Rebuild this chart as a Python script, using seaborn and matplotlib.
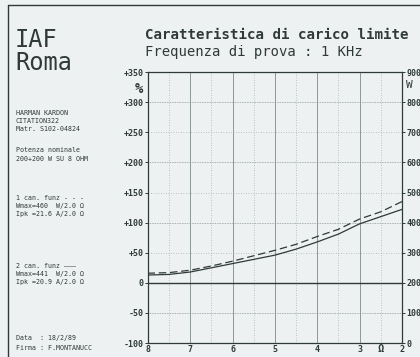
import pandas as pd
import matplotlib.pyplot as plt
import seaborn as sns
from matplotlib.lines import Line2D

# load impedance (ohm) vs. extra power (%) for the two channel modes
ohm = [8, 7.5, 7, 6.5, 6, 5.5, 5, 4.5, 4, 3.5, 3, 2.5, 2]
due_canali = [13, 14, 18, 25, 32, 39, 46, 56, 68, 81, 98, 110, 122]   # 2 can. funz (solid)
un_canale = [16, 17, 21, 28, 36, 45, 54, 64, 77, 89, 106, 118, 135]   # 1 can. funz (dashed)

pct_ticks = [350, 300, 250, 200, 150, 100, 50, 0, -50, -100]
pct_labels = ["+350", "+300", "+250", "+200", "+150", "+100", "+50", "0", "-50", "-100"]
watt_ticks = [0, 100, 200, 300, 400, 500, 600, 700, 800, 900]
ohm_ticks = [8, 7, 6, 5, 4, 3, 2]

ink = "#2f3a38"
paper = "#eef1f1"
mono = "DejaVu Sans Mono"

sns.set_style("white")
plt.rcParams["font.family"] = [mono, "DejaVu Sans"]

df = pd.DataFrame({
    "ohm": ohm * 2,
    "pct": due_canali + un_canale,
    "canali": ["2"] * len(ohm) + ["1"] * len(ohm),
})

fig = plt.figure(figsize=(4.2, 3.57), dpi=100, facecolor=paper)
ax = fig.add_axes([0.352, 0.039, 0.605, 0.759], facecolor=paper)

# grid: integers / hundreds darker, halves / fifties dotted
for x in ohm_ticks:
    ax.axvline(x, color="#8f9898", lw=0.7, zorder=0)
for x in [7.5, 6.5, 5.5, 4.5, 3.5, 2.5]:
    ax.axvline(x, color="#aab2b2", lw=0.6, ls=(0, (1, 2)), zorder=0)
for y in [300, 200, 100, -50]:
    ax.axhline(y, color="#8f9898", lw=0.6, ls=(0, (1, 1)), zorder=0)
for y in [250, 150, 50]:
    ax.axhline(y, color="#aab2b2", lw=0.6, ls=(0, (1, 2)), zorder=0)
ax.axhline(0, color=ink, lw=1.0, zorder=1)

sns.lineplot(data=df, x="ohm", y="pct", style="canali", style_order=["2", "1"],
             dashes={"2": "", "1": (6, 3)}, color=ink, lw=0.9, legend=False, ax=ax)

ax.set_xlim(8, 2)
ax.set_ylim(-100, 350)
ax.set_xticks(ohm_ticks)
ax.set_xticklabels([str(t) for t in ohm_ticks])
ax.set_yticks(pct_ticks)
ax.set_yticklabels(pct_labels)
ax.set_xlabel("")
ax.set_ylabel("")
ax.tick_params(axis="y", length=2, width=0.7, color=ink, labelcolor=ink, labelsize=6, pad=1)
ax.tick_params(axis="x", length=0, color=ink, labelcolor=ink, labelsize=6, pad=1.5)
for lab in ax.get_xticklabels() + ax.get_yticklabels():
    lab.set_fontweight("bold")
for s in ax.spines.values():
    s.set_color(ink)
    s.set_linewidth(0.9)
fig.text(381 / 420, 1 - 349 / 357, "\u03a9", ha="center", va="center",
         fontsize=7.5, color=ink, fontweight="bold")

ax2 = ax.twinx()
ax2.set_ylim(0, 900)
ax2.set_yticks(watt_ticks)
ax2.set_yticklabels([str(t) for t in watt_ticks])
ax2.tick_params(axis="y", length=2, width=0.7, color=ink, labelcolor=ink, labelsize=6, pad=1)
for lab in ax2.get_yticklabels():
    lab.set_fontweight("bold")
for s in ax2.spines.values():
    s.set_visible(False)

# axis units
fig.text(139 / 420, 1 - 89 / 357, "%", ha="center", va="center", fontsize=10, color=ink, fontweight="bold")
fig.text(409 / 420, 1 - 85 / 357, "W", ha="center", va="center", fontsize=8, color=ink)

# paper frame
fig.add_artist(Line2D([8 / 420, 1], [1 - 5 / 357, 1 - 5 / 357], transform=fig.transFigure, color=ink, lw=1.0))
fig.add_artist(Line2D([8 / 420, 8 / 420], [0, 1 - 5 / 357], transform=fig.transFigure, color=ink, lw=1.0))

# heading
fig.text(15 / 420, 1 - 40 / 357, "IAF", fontsize=17, color=ink, va="center", fontweight="light")
fig.text(15 / 420, 1 - 63 / 357, "Roma", fontsize=17, color=ink, va="center", fontweight="light")
fig.text(145 / 420, 1 - 35 / 357, "Caratteristica di carico limite", fontsize=10.2,
         color=ink, va="center", fontweight="bold")
fig.text(145 / 420, 1 - 52 / 357, "Frequenza di prova : 1 KHz", fontsize=10, color=ink, va="center")

# test sheet notes
notes = [
    (113, "HARMAN KARDON"),
    (121, "CITATION322"),
    (129, "Matr. S102-04824"),
    (150, "Potenza nominale"),
    (159, "200+200 W SU 8 OHM"),
    (198, "1 can. funz - - -"),
    (206, "Wmax=460  W/2.0 \u03a9"),
    (214, "Ipk =21.6 A/2.0 \u03a9"),
    (266, "2 can. funz \u2014\u2014\u2014"),
    (274, "Wmax=441  W/2.0 \u03a9"),
    (282, "Ipk =20.9 A/2.0 \u03a9"),
    (338, "Data  : 18/2/89"),
    (348, "Firma : F.MONTANUCC"),
]
for y, t in notes:
    fig.text(16 / 420, 1 - y / 357, t, fontsize=4.8, color=ink, va="center")

fig.savefig("out.png", dpi=100, facecolor=paper)
